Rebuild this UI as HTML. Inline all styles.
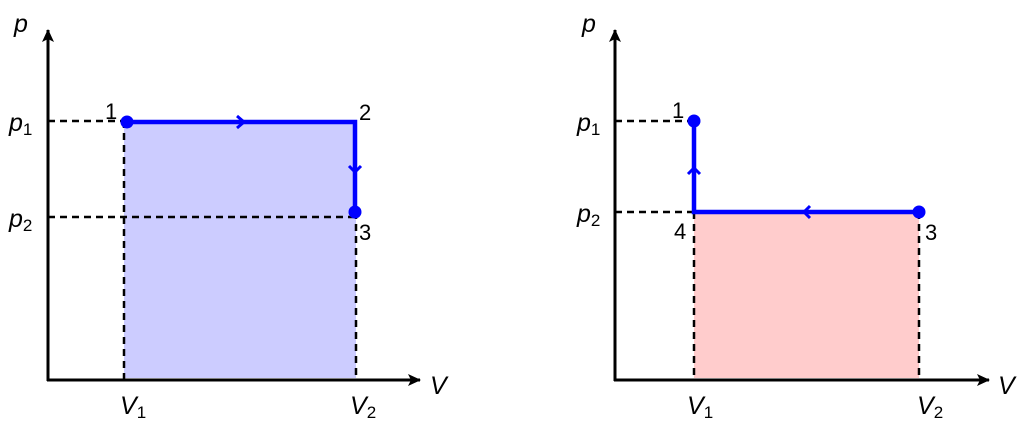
<!DOCTYPE html>
<html><head><meta charset="utf-8"><style>
html,body{margin:0;padding:0;background:#fff}
svg text{font-family:"Liberation Sans",sans-serif;fill:#000}
</style></head><body>
<svg width="1022" height="432" viewBox="0 0 1022 432" xmlns="http://www.w3.org/2000/svg">
<defs>
<marker id="ah" markerWidth="14" markerHeight="12" refX="12" refY="6" orient="auto" markerUnits="userSpaceOnUse">
<path d="M0,0 L13,6 L0,12 L3,6 Z" fill="#000"/>
</marker>
</defs>
<!-- LEFT -->
<rect x="124" y="121" width="232" height="257" fill="#ccccff"/>
<g stroke="#000" stroke-width="2.5" stroke-dasharray="7,5" fill="none">
<line x1="48" y1="121" x2="124" y2="121"/>
<line x1="48" y1="217" x2="356" y2="217"/>
<line x1="124" y1="121" x2="124" y2="380"/>
<line x1="356" y1="212" x2="356" y2="380"/>
</g>
<line x1="48" y1="381" x2="48" y2="30" stroke="#000" stroke-width="3" marker-end="url(#ah)"/>
<line x1="47" y1="380" x2="420" y2="380" stroke="#000" stroke-width="3" marker-end="url(#ah)"/>
<polyline points="127,122 355,122 355,212" fill="none" stroke="#0000ff" stroke-width="4.5"/>
<path d="M237,116 L244,122 L237,128" fill="none" stroke="#0000ff" stroke-width="3"/>
<path d="M349,166 L355,172 L361,166" fill="none" stroke="#0000ff" stroke-width="3"/>
<circle cx="127" cy="122" r="6.5" fill="#0000ff"/>
<circle cx="355" cy="212" r="6.5" fill="#0000ff"/>
<text x="14" y="32" font-size="25" font-style="italic">p</text>
<text x="9" y="131" font-size="25" font-style="italic">p<tspan font-size="17" font-style="normal" dy="4">1</tspan></text>
<text x="9" y="227" font-size="25" font-style="italic">p<tspan font-size="17" font-style="normal" dy="4">2</tspan></text>
<text x="105" y="119" font-size="22">1</text>
<text x="359" y="120" font-size="22">2</text>
<text x="359" y="240" font-size="22">3</text>
<text x="120" y="414" font-size="25" font-style="italic">V<tspan font-size="17" font-style="normal" dy="4">1</tspan></text>
<text x="350" y="414" font-size="25" font-style="italic">V<tspan font-size="17" font-style="normal" dy="4">2</tspan></text>
<text x="430" y="394" font-size="25" font-style="italic">V</text>
<!-- RIGHT -->
<rect x="694" y="212" width="225" height="166" fill="#ffcccc"/>
<g stroke="#000" stroke-width="2.5" stroke-dasharray="7,5" fill="none">
<line x1="615" y1="121" x2="690" y2="121"/>
<line x1="615" y1="212" x2="694" y2="212"/>
<line x1="694" y1="212" x2="694" y2="380"/>
<line x1="919" y1="212" x2="919" y2="380"/>
</g>
<line x1="615" y1="381" x2="615" y2="30" stroke="#000" stroke-width="3" marker-end="url(#ah)"/>
<line x1="614" y1="380" x2="989" y2="380" stroke="#000" stroke-width="3" marker-end="url(#ah)"/>
<polyline points="694,121 694,212 919,212" fill="none" stroke="#0000ff" stroke-width="4.5"/>
<path d="M688,174 L694,168 L700,174" fill="none" stroke="#0000ff" stroke-width="3"/>
<path d="M810,206 L804,212 L810,218" fill="none" stroke="#0000ff" stroke-width="3"/>
<circle cx="694" cy="121" r="6.5" fill="#0000ff"/>
<circle cx="919" cy="212" r="6.5" fill="#0000ff"/>
<text x="582" y="32" font-size="25" font-style="italic">p</text>
<text x="577" y="131" font-size="25" font-style="italic">p<tspan font-size="17" font-style="normal" dy="4">1</tspan></text>
<text x="577" y="222" font-size="25" font-style="italic">p<tspan font-size="17" font-style="normal" dy="4">2</tspan></text>
<text x="672" y="118" font-size="22">1</text>
<text x="674" y="239" font-size="22">4</text>
<text x="925" y="240" font-size="22">3</text>
<text x="687" y="414" font-size="25" font-style="italic">V<tspan font-size="17" font-style="normal" dy="4">1</tspan></text>
<text x="917" y="414" font-size="25" font-style="italic">V<tspan font-size="17" font-style="normal" dy="4">2</tspan></text>
<text x="998" y="394" font-size="25" font-style="italic">V</text>
</svg>
</body></html>
